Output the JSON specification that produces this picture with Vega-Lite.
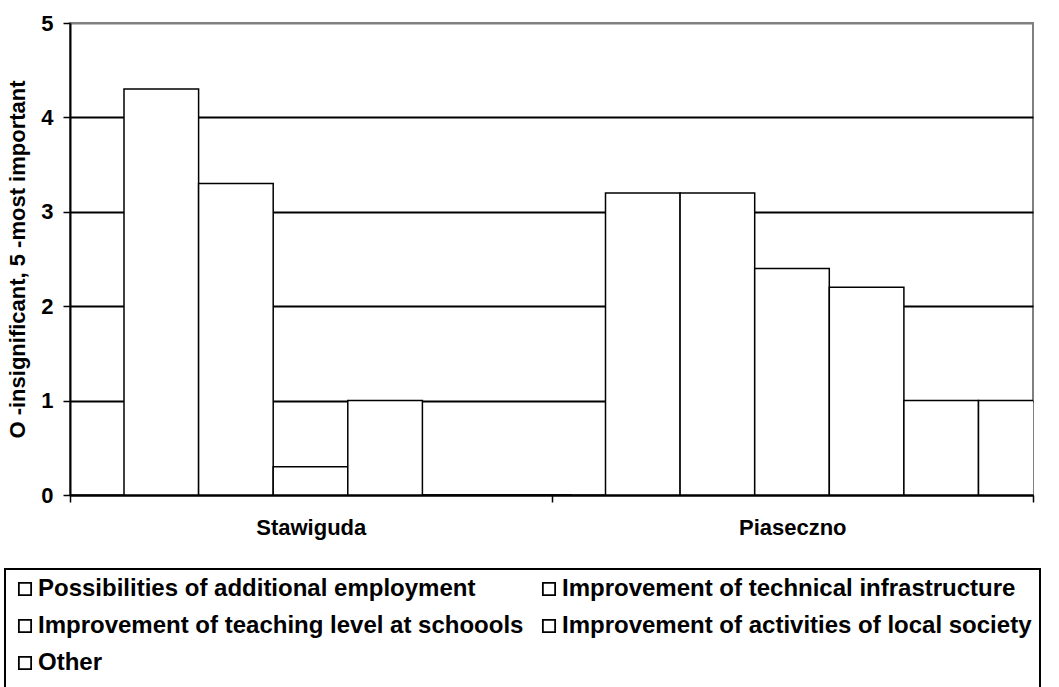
{
  "$schema": "https://vega.github.io/schema/vega-lite/v6.json",
  "width": 963,
  "height": 472,
  "autosize": "none",
  "padding": {"left": 70, "top": 23, "right": 26, "bottom": 192},
  "background": "white",
  "config": {
    "font": "Liberation Sans",
    "view": {"stroke": "#808080", "strokeWidth": 2}
  },
  "data": {
    "values": [
      {"municipality": "Stawiguda", "factor": "Possibilities of additional employment", "score": 4.3},
      {"municipality": "Stawiguda", "factor": "Improvement of technical infrastructure", "score": 3.3},
      {"municipality": "Stawiguda", "factor": "Improvement of teaching level at schoools", "score": 0.3},
      {"municipality": "Stawiguda", "factor": "Improvement of activities of local society", "score": 1.0},
      {"municipality": "Stawiguda", "factor": "Other", "score": 0},
      {"municipality": "Stawiguda", "factor": "Series 6", "score": 0},
      {"municipality": "Piaseczno", "factor": "Possibilities of additional employment", "score": 3.2},
      {"municipality": "Piaseczno", "factor": "Improvement of technical infrastructure", "score": 3.2},
      {"municipality": "Piaseczno", "factor": "Improvement of teaching level at schoools", "score": 2.4},
      {"municipality": "Piaseczno", "factor": "Improvement of activities of local society", "score": 2.2},
      {"municipality": "Piaseczno", "factor": "Other", "score": 1.0},
      {"municipality": "Piaseczno", "factor": "Series 6", "score": 1.0}
    ]
  },
  "mark": {"type": "bar", "stroke": "black", "strokeWidth": 1.5, "clip": true},
  "encoding": {
    "x": {
      "field": "municipality",
      "type": "nominal",
      "sort": ["Stawiguda", "Piaseczno"],
      "scale": {"paddingInner": 0, "paddingOuter": 0},
      "axis": {
        "title": null,
        "labelAngle": 0,
        "labelFontWeight": "bold",
        "labelFontSize": 22,
        "labelColor": "black",
        "labelPadding": 15,
        "tickBand": "extent",
        "tickColor": "black",
        "tickWidth": 1.5,
        "tickSize": 7,
        "domainColor": "black",
        "domainWidth": 2
      }
    },
    "xOffset": {
      "field": "factor",
      "type": "nominal",
      "sort": [
        "Possibilities of additional employment",
        "Improvement of technical infrastructure",
        "Improvement of teaching level at schoools",
        "Improvement of activities of local society",
        "Other",
        "Series 6"
      ],
      "scale": {"range": [54, 501.6], "paddingInner": 0, "paddingOuter": 0}
    },
    "y": {
      "field": "score",
      "type": "quantitative",
      "scale": {"domain": [0, 5]},
      "axis": {
        "title": "O -insignificant, 5 -most important",
        "titleFontSize": 22,
        "titleFontWeight": "bold",
        "titleColor": "black",
        "titlePadding": 11,
        "values": [0, 1, 2, 3, 4, 5],
        "labelFontWeight": "bold",
        "labelFontSize": 22,
        "labelColor": "black",
        "labelPadding": 10,
        "tickColor": "black",
        "tickWidth": 1.5,
        "tickSize": 7,
        "domainColor": "black",
        "domainWidth": 2,
        "grid": true,
        "gridColor": {"condition": {"test": "datum.value == 5", "value": "#808080"}, "value": "black"},
        "gridWidth": 2
      }
    },
    "fill": {
      "field": "factor",
      "type": "nominal",
      "scale": {
        "domain": [
          "Possibilities of additional employment",
          "Improvement of technical infrastructure",
          "Improvement of teaching level at schoools",
          "Improvement of activities of local society",
          "Other",
          "Series 6"
        ],
        "range": ["white", "white", "white", "white", "white", "white"]
      },
      "legend": {
        "values": [
          "Possibilities of additional employment",
          "Improvement of technical infrastructure",
          "Improvement of teaching level at schoools",
          "Improvement of activities of local society",
          "Other"
        ],
        "title": "\u00a0\u00a0\u00a0\u00a0\u00a0\u00a0\u00a0\u00a0\u00a0\u00a0\u00a0\u00a0\u00a0\u00a0\u00a0\u00a0\u00a0\u00a0\u00a0\u00a0\u00a0\u00a0\u00a0\u00a0\u00a0\u00a0\u00a0\u00a0\u00a0\u00a0\u00a0\u00a0\u00a0\u00a0\u00a0\u00a0\u00a0\u00a0\u00a0\u00a0\u00a0\u00a0\u00a0\u00a0\u00a0\u00a0\u00a0\u00a0\u00a0\u00a0\u00a0\u00a0\u00a0\u00a0\u00a0\u00a0\u00a0\u00a0\u00a0\u00a0\u00a0\u00a0\u00a0\u00a0\u00a0\u00a0\u00a0\u00a0\u00a0\u00a0\u00a0\u00a0\u00a0\u00a0\u00a0\u00a0\u00a0\u00a0\u00a0\u00a0\u00a0\u00a0\u00a0\u00a0\u00a0\u00a0\u00a0\u00a0\u00a0\u00a0\u00a0\u00a0\u00a0\u00a0\u00a0\u00a0\u00a0\u00a0\u00a0\u00a0\u00a0\u00a0\u00a0\u00a0\u00a0\u00a0\u00a0\u00a0\u00a0\u00a0",
        "titleOrient": "bottom",
        "titleFontSize": 36,
        "titlePadding": 0,
        "titleLimit": 3000,
        "orient": "none",
        "legendX": -65,
        "legendY": 546,
        "direction": "horizontal",
        "columns": 2,
        "gridAlign": "all",
        "columnPadding": 13,
        "rowPadding": 13,
        "symbolType": "square",
        "symbolSize": 150,
        "symbolStrokeColor": "black",
        "symbolStrokeWidth": 1.8,
        "symbolOffset": 0,
        "labelFontWeight": "bold",
        "labelFontSize": 24,
        "labelColor": "black",
        "labelOffset": 1,
        "labelLimit": 700,
        "strokeColor": "black",
        "fillColor": "white",
        "padding": 8,
        "cornerRadius": 0,
        "encode": {"legend": {"update": {"strokeWidth": {"value": 2}}}}
      }
    }
  }
}
